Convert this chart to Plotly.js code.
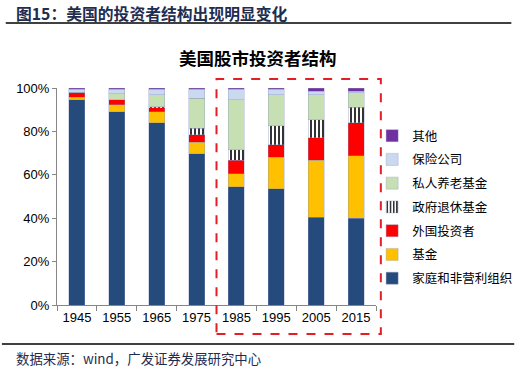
<!DOCTYPE html>
<html>
<head>
<meta charset="utf-8">
<script src="https://cdn.plot.ly/plotly-3.0.1.min.js"></script>
<style>html,body{margin:0;padding:0;background:#fff;}#chart{width:530px;height:371px;}</style>
</head>
<body>
<div id="chart"></div>
<script>
var years = ['1945','1955','1965','1975','1985','1995','2005','2015'];
var household      = [94.5, 89.0, 84.1, 69.7, 54.4, 53.5, 40.4, 39.9];
var funds          = [1.2, 3.2, 4.9, 5.2, 6.1, 14.7, 26.3, 28.9];
var foreign        = [2.0, 2.3, 1.8, 3.5, 6.1, 5.7, 10.3, 15.3];
var govPension     = [0, 0, 0.6, 3.1, 4.9, 8.8, 8.4, 7.1];
var privatePension = [0.3, 2.8, 5.5, 13.8, 23.0, 14.3, 11.5, 6.7];
var insurance      = [1.5, 2.2, 2.6, 4.2, 4.9, 2.5, 1.6, 0.7];
var other          = [0.5, 0.5, 0.5, 0.5, 0.6, 0.5, 1.5, 1.4];
var seriesNames = ['家庭和非营利组织','基金','外国投资者','政府退休基金','私人养老基金','保险公司','其他'];
var yTicks = [0, 20, 40, 60, 80, 100];

var L = 57, R = 387, T = 88, B = 305;
function px(x){ return (x - L) / (R - L); }
function py(y){ return (B - y) / (B - T); }

var edge = {color: 'rgba(140,150,190,0.6)', width: 0.6};
function bar(name, vals, color, idx, extra){
  var t = {type:'bar', name:name, x:years, y:vals, legendgroup:'g'+idx, legendrank: 100 - idx,
    marker:{color:color, line:edge}, hoverinfo:'skip'};
  if (extra) for (var k in extra) t.marker[k] = extra[k];
  return t;
}
var data = [
  bar(seriesNames[0], household, '#254A7C', 0),
  bar(seriesNames[1], funds, '#FFC000', 1),
  bar(seriesNames[2], foreign, '#FF0000', 2),
  bar(seriesNames[3], govPension, '#FFFFFF', 3, {pattern:{shape:'|', fgcolor:'#000000', bgcolor:'#FFFFFF', size:4, solidity:0.4}}),
  bar(seriesNames[4], privatePension, '#C6E0B4', 4),
  bar(seriesNames[5], insurance, '#C9DAF0', 5),
  bar(seriesNames[6], other, '#7030A0', 6)
];

var font = 'Liberation Sans, Noto Sans CJK SC, sans-serif';
var layout = {
  width:530, height:371,
  margin:{l:L, r:530-R, t:T, b:371-B, pad:0},
  paper_bgcolor:'#fff', plot_bgcolor:'#fff',
  barmode:'stack', bargap:0.6,
  font:{family:font, size:12, color:'#000'},
  showlegend:true,
  legend:{x:px(383), xanchor:'left', y:py(121), yanchor:'top', traceorder:'grouped',
    tracegroupgap:4.5, font:{size:12.5, family:'Noto Sans CJK SC, sans-serif', color:'#000'},
    itemwidth:30, bgcolor:'rgba(0,0,0,0)'},
  xaxis:{type:'category', showline:true, linecolor:'#868686', linewidth:1,
    ticks:'outside', tickson:'boundaries', ticklen:5, tickcolor:'#868686',
    tickfont:{size:13, color:'#000'}, showgrid:false, zeroline:false, fixedrange:true},
  yaxis:{range:[0,100], tickvals:yTicks, ticktext:yTicks.map(function(v){return v+'%';}),
    showline:true, linecolor:'#868686', linewidth:1, ticks:'outside', ticklen:4, tickcolor:'#868686',
    tickfont:{size:13, color:'#000'}, showgrid:false, zeroline:false, fixedrange:true},
  shapes:[
    {type:'line', xref:'paper', yref:'paper', x0:px(4), x1:px(527), y0:py(23), y1:py(23), line:{color:'#000', width:1.5}},
    {type:'line', xref:'paper', yref:'paper', x0:px(0), x1:px(530), y0:py(344), y1:py(344), line:{color:'#000', width:1.5}},
    {type:'rect', xref:'paper', yref:'paper', x0:px(222), x1:px(392), y0:py(334), y1:py(79), line:{color:'#E31E24', width:2, dash:'dash'}, fillcolor:'rgba(0,0,0,0)'}
  ],
  annotations:[
    {xref:'paper', yref:'paper', x:px(12), y:py(13), xanchor:'left', yanchor:'middle', showarrow:false,
      text:'<b>图15：美国的投资者结构出现明显变化</b>', font:{family:'Noto Sans CJK SC, sans-serif', size:15.8, color:'#1F2D4F'}},
    {xref:'paper', yref:'paper', x:px(265), y:py(58), xanchor:'center', yanchor:'middle', showarrow:false,
      text:'<b>美国股市投资者结构</b>', font:{family:'Noto Sans CJK SC, sans-serif', size:17.5, color:'#000'}},
    {xref:'paper', yref:'paper', x:px(12), y:py(358), xanchor:'left', yanchor:'middle', showarrow:false,
      text:'数据来源：wind，广发证券发展研究中心', font:{family:'Noto Sans CJK SC, sans-serif', size:13.4, color:'#1F2D4F'}}
  ]
};
Plotly.newPlot('chart', data, layout, {displayModeBar:false, staticPlot:true});
</script>
</body>
</html>
